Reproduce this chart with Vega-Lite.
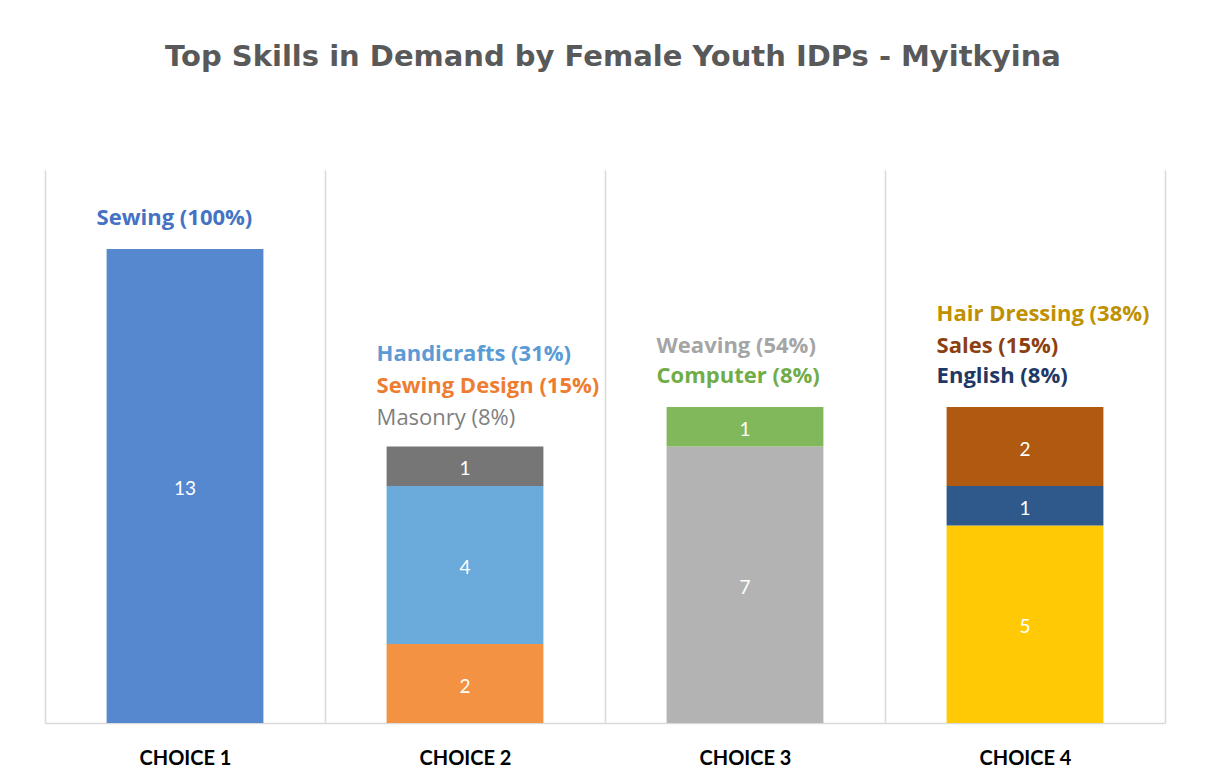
{
  "$schema": "https://vega.github.io/schema/vega-lite/v6.json",
  "width": 1120,
  "height": 553,
  "autosize": {"type": "none"},
  "padding": {"left": 45, "right": 41, "top": 170, "bottom": 52},
  "background": "white",
  "title": {
    "text": "Top Skills in Demand by Female Youth IDPs - Myitkyina",
    "font": "DejaVu Sans",
    "fontSize": 29,
    "fontWeight": "bold",
    "color": "#595959",
    "anchor": "middle",
    "frame": "group",
    "baseline": "alphabetic",
    "offset": 75,
    "dx": 8
  },
  "config": {"view": {"stroke": null}},
  "data": {
    "values": [
      {"choice": "CHOICE 1", "skill": "Sewing", "value": 12, "count": "13", "order": 1, "line": 1, "note": "Sewing (100%)"},
      {"choice": "CHOICE 2", "skill": "Sewing Design", "value": 2, "count": "2", "order": 1, "line": 2, "note": "Sewing Design (15%)"},
      {"choice": "CHOICE 2", "skill": "Handicrafts", "value": 4, "count": "4", "order": 2, "line": 3, "note": "Handicrafts (31%)"},
      {"choice": "CHOICE 2", "skill": "Masonry", "value": 1, "count": "1", "order": 3, "line": 1, "note": "Masonry (8%)"},
      {"choice": "CHOICE 3", "skill": "Weaving", "value": 7, "count": "7", "order": 1, "line": 2, "note": "Weaving (54%)"},
      {"choice": "CHOICE 3", "skill": "Computer", "value": 1, "count": "1", "order": 2, "line": 1, "note": "Computer (8%)"},
      {"choice": "CHOICE 4", "skill": "Hair Dressing", "value": 5, "count": "5", "order": 1, "line": 3, "note": "Hair Dressing (38%)"},
      {"choice": "CHOICE 4", "skill": "English", "value": 1, "count": "1", "order": 2, "line": 1, "note": "English (8%)"},
      {"choice": "CHOICE 4", "skill": "Sales", "value": 2, "count": "2", "order": 3, "line": 2, "note": "Sales (15%)"}
    ]
  },
  "transform": [
    {"joinaggregate": [{"op": "sum", "field": "value", "as": "total"}], "groupby": ["choice"]},
    {"stack": "value", "groupby": ["choice"], "sort": [{"field": "order", "order": "ascending"}], "as": ["v0", "v1"]},
    {"calculate": "(datum.v0 + datum.v1) / 2", "as": "mid"}
  ],
  "encoding": {
    "x": {
      "field": "choice",
      "type": "nominal",
      "scale": {"paddingInner": 0, "paddingOuter": 0},
      "axis": {
        "title": null,
        "labelAngle": 0,
        "labelFont": "Lato",
        "labelFontSize": 20,
        "labelFontWeight": "bold",
        "labelColor": "#000000",
        "labelPadding": 25,
        "ticks": false,
        "domainColor": "#d9d9d9",
        "domainWidth": 1.5,
        "grid": true,
        "gridColor": "#d9d9d9",
        "gridWidth": 1.5,
        "tickBand": "extent"
      }
    }
  },
  "layer": [
    {
      "mark": {"type": "bar", "width": {"band": 0.56}},
      "encoding": {
        "y": {"field": "v0", "type": "quantitative", "scale": {"domain": [0, 14]}, "axis": null},
        "y2": {"field": "v1"},
        "color": {
          "field": "skill",
          "type": "nominal",
          "legend": null,
          "scale": {
            "domain": ["Sewing", "Sewing Design", "Handicrafts", "Masonry", "Weaving", "Computer", "Hair Dressing", "English", "Sales"],
            "range": ["#5588CF", "#F29242", "#6AABDC", "#767676", "#B3B3B3", "#82B85C", "#FFCA05", "#2F588B", "#AF5A10"]
          }
        }
      }
    },
    {
      "mark": {"type": "text", "color": "white", "font": "Lato", "fontSize": 19, "baseline": "middle", "align": "center", "dy": 3},
      "encoding": {
        "y": {"field": "mid", "type": "quantitative"},
        "text": {"field": "count"}
      }
    },
    {
      "transform": [{"filter": "datum.line == 1 && datum.skill != 'Masonry'"}],
      "mark": {"type": "text", "font": "Open Sans", "fontSize": 22, "fontWeight": "bold", "baseline": "middle", "align": "left", "dy": -31, "dx": -10},
      "encoding": {
        "x": {"field": "choice", "type": "nominal", "bandPosition": 0.22},
        "y": {"field": "total", "type": "quantitative"},
        "text": {"field": "note"},
        "color": {
          "field": "skill", "type": "nominal", "legend": null,
          "scale": {
            "domain": ["Sewing", "Sewing Design", "Handicrafts", "Masonry", "Weaving", "Computer", "Hair Dressing", "English", "Sales"],
            "range": ["#4472C4", "#ED7D31", "#5B9BD5", "#7F7F7F", "#A5A5A5", "#70AD47", "#BF9000", "#1F3864", "#8C3F10"]
          }
        }
      }
    },
    {
      "transform": [{"filter": "datum.skill == 'Masonry'"}],
      "mark": {"type": "text", "font": "Open Sans", "fontSize": 22, "fontWeight": "normal", "baseline": "middle", "align": "left", "dy": -29, "dx": -10},
      "encoding": {
        "x": {"field": "choice", "type": "nominal", "bandPosition": 0.22},
        "y": {"field": "total", "type": "quantitative"},
        "text": {"field": "note"},
        "color": {
          "field": "skill", "type": "nominal", "legend": null,
          "scale": {
            "domain": ["Sewing", "Sewing Design", "Handicrafts", "Masonry", "Weaving", "Computer", "Hair Dressing", "English", "Sales"],
            "range": ["#4472C4", "#ED7D31", "#5B9BD5", "#7F7F7F", "#A5A5A5", "#70AD47", "#BF9000", "#1F3864", "#8C3F10"]
          }
        }
      }
    },
    {
      "transform": [{"filter": "datum.line == 2"}],
      "mark": {"type": "text", "font": "Open Sans", "fontSize": 22, "fontWeight": "bold", "baseline": "middle", "align": "left", "dy": -61, "dx": -10},
      "encoding": {
        "x": {"field": "choice", "type": "nominal", "bandPosition": 0.22},
        "y": {"field": "total", "type": "quantitative"},
        "text": {"field": "note"},
        "color": {
          "field": "skill", "type": "nominal", "legend": null,
          "scale": {
            "domain": ["Sewing", "Sewing Design", "Handicrafts", "Masonry", "Weaving", "Computer", "Hair Dressing", "English", "Sales"],
            "range": ["#4472C4", "#ED7D31", "#5B9BD5", "#7F7F7F", "#A5A5A5", "#70AD47", "#BF9000", "#1F3864", "#8C3F10"]
          }
        }
      }
    },
    {
      "transform": [{"filter": "datum.line == 3"}],
      "mark": {"type": "text", "font": "Open Sans", "fontSize": 22, "fontWeight": "bold", "baseline": "middle", "align": "left", "dy": -93, "dx": -10},
      "encoding": {
        "x": {"field": "choice", "type": "nominal", "bandPosition": 0.22},
        "y": {"field": "total", "type": "quantitative"},
        "text": {"field": "note"},
        "color": {
          "field": "skill", "type": "nominal", "legend": null,
          "scale": {
            "domain": ["Sewing", "Sewing Design", "Handicrafts", "Masonry", "Weaving", "Computer", "Hair Dressing", "English", "Sales"],
            "range": ["#4472C4", "#ED7D31", "#5B9BD5", "#7F7F7F", "#A5A5A5", "#70AD47", "#BF9000", "#1F3864", "#8C3F10"]
          }
        }
      }
    }
  ],
  "resolve": {"scale": {"color": "independent"}}
}
